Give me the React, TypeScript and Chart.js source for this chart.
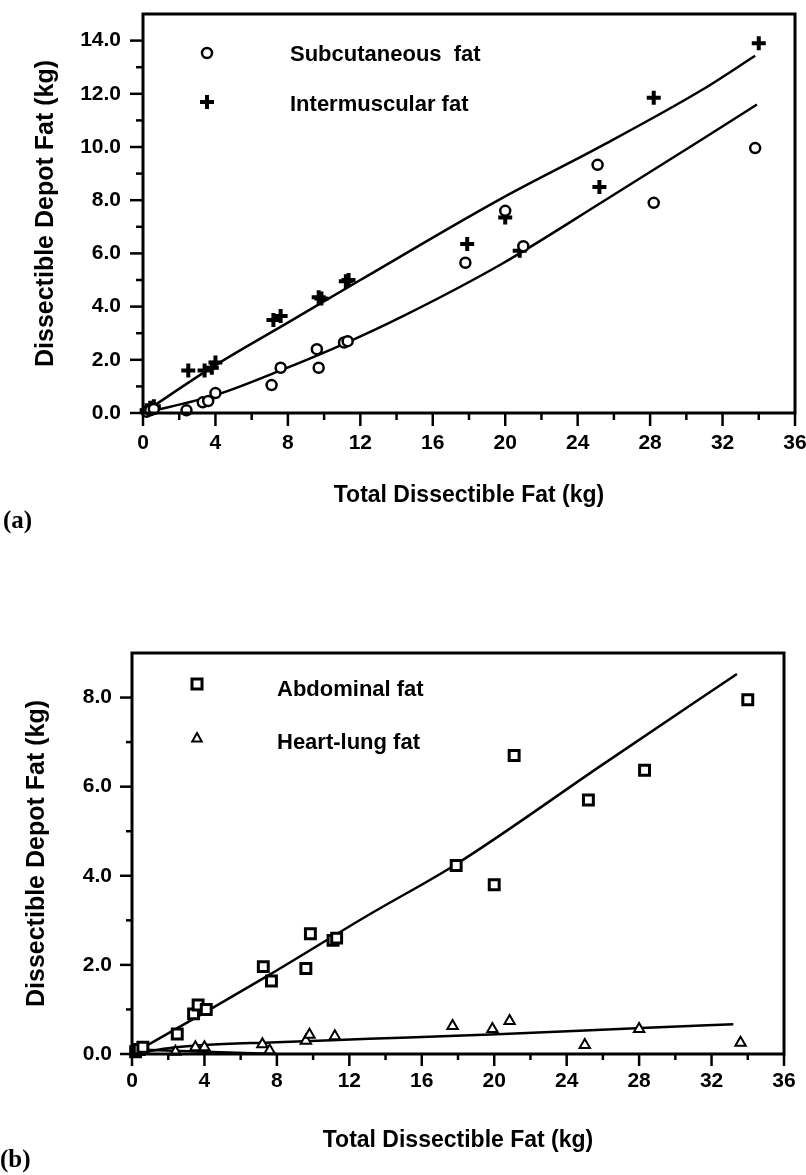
import React, { useEffect, useRef } from 'react';
import { Chart, registerables } from 'chart.js';

Chart.register(...registerables);

// ---------- Data: panel (a) ----------
const subX = [0.2, 0.4, 0.6, 2.4, 3.3, 3.6, 4.0, 7.1, 7.6, 9.6, 9.7, 11.1, 11.3, 17.8, 20.0, 21.0, 25.1, 28.2, 33.8];
const subY = [0.05, 0.1, 0.15, 0.1, 0.4, 0.45, 0.75, 1.05, 1.7, 2.4, 1.7, 2.65, 2.7, 5.65, 7.6, 6.27, 9.33, 7.9, 9.96];
const intX = [0.2, 0.4, 0.6, 2.5, 3.4, 3.8, 4.0, 7.2, 7.6, 9.7, 9.85, 11.2, 11.35, 17.9, 20.0, 20.8, 25.2, 28.2, 34.0];
const intY = [0.1, 0.2, 0.25, 1.6, 1.6, 1.7, 1.9, 3.5, 3.65, 4.35, 4.3, 4.95, 5.0, 6.35, 7.35, 6.1, 8.5, 11.85, 13.9];
const subFitX = [0, 4.0, 7.6, 11.1, 14.3, 19.8, 25.4, 30.9, 33.9];
const subFitY = [0, 0.67, 1.6, 2.6, 3.62, 5.6, 7.95, 10.3, 11.6];
const intFitX = [0, 4.0, 8.0, 12.0, 19.8, 25.4, 30.9, 33.8];
const intFitY = [0, 1.8, 3.4, 5.0, 8.07, 10.07, 12.16, 13.43];

// ---------- Data: panel (b) ----------
const abdX = [0.2, 0.4, 0.6, 2.5, 3.4, 3.65, 4.1, 7.25, 7.7, 9.6, 9.85, 11.1, 11.3, 17.9, 20.0, 21.1, 25.2, 28.3, 34.0];
const abdY = [0.05, 0.1, 0.15, 0.45, 0.9, 1.1, 1.0, 1.96, 1.64, 1.92, 2.7, 2.55, 2.6, 4.23, 3.8, 6.7, 5.7, 6.37, 7.95];
const hlX = [0.2, 0.4, 2.4, 3.5, 4.0, 7.2, 7.6, 9.6, 9.8, 11.2, 17.7, 19.9, 20.85, 25.0, 28.0, 33.6];
const hlY = [0.05, 0.08, 0.05, 0.15, 0.15, 0.22, 0.08, 0.3, 0.43, 0.4, 0.63, 0.56, 0.74, 0.2, 0.56, 0.25];
const abdFitX = [0, 4.1, 7.6, 13.1, 17.9, 26.0, 33.4];
const abdFitY = [0, 0.95, 1.78, 3.13, 4.26, 6.5, 8.53];
const hlFitX = [0, 2.0, 4.0, 7.6, 13.1, 20.5, 27.8, 33.2];
const hlFitY = [0, 0.13, 0.2, 0.26, 0.34, 0.45, 0.58, 0.67];
const lowFitX = [0.2, 4.0, 8.0];
const lowFitY = [0.1, 0.05, 0.0];

// ---------- Labels ----------
const xTitle = 'Total Dissectible Fat (kg)';
const yTitle = 'Dissectible Depot Fat (kg)';
const legendA = ['Subcutaneous  fat', 'Intermuscular fat'];
const legendB = ['Abdominal fat', 'Heart-lung fat'];

const FONT = "'Liberation Sans', Arial, Helvetica, sans-serif";

const pts = (xs: number[], ys: number[]) => xs.map((x, i) => ({ x, y: ys[i] }));

function drawMarker(ctx: CanvasRenderingContext2D, style: string, x: number, y: number) {
  ctx.save();
  ctx.strokeStyle = '#000';
  ctx.fillStyle = '#fff';
  ctx.beginPath();
  if (style === 'circle') {
    ctx.lineWidth = 2.5;
    ctx.arc(x, y, 5, 0, Math.PI * 2);
    ctx.fill();
    ctx.stroke();
  } else if (style === 'cross') {
    ctx.lineWidth = 4;
    ctx.moveTo(x - 7, y); ctx.lineTo(x + 7, y);
    ctx.moveTo(x, y - 7); ctx.lineTo(x, y + 7);
    ctx.stroke();
  } else if (style === 'rect') {
    ctx.lineWidth = 3;
    ctx.rect(x - 5, y - 5, 10, 10);
    ctx.fill();
    ctx.stroke();
  } else if (style === 'triangle') {
    ctx.lineWidth = 2;
    const r = 5;
    ctx.moveTo(x, y - r);
    ctx.lineTo(x + r * 0.866 * 1.1, y + r * 0.5 + 1);
    ctx.lineTo(x - r * 0.866 * 1.1, y + r * 0.5 + 1);
    ctx.closePath();
    ctx.fill();
    ctx.stroke();
  }
  ctx.restore();
}

const framePlugin = {
  id: 'frame',
  afterDatasetsDraw(chart: any, _args: any, opts: any) {
    const { ctx, chartArea, scales } = chart;
    const { left, right, top, bottom } = chartArea;
    const xs = scales.x;
    const ys = scales.y;
    ctx.save();
    ctx.strokeStyle = '#000';
    ctx.lineWidth = 3;
    ctx.strokeRect(left, top, right - left, bottom - top);
    ctx.lineWidth = 2.5;
    for (let v = 0; v <= opts.xMax + 1e-9; v += opts.xMinor) {
      const px = xs.getPixelForValue(v);
      const major = Math.abs(v / opts.xMajor - Math.round(v / opts.xMajor)) < 1e-6;
      const len = major ? opts.majorLen : opts.minorLen;
      ctx.beginPath();
      ctx.moveTo(px, bottom);
      ctx.lineTo(px, bottom + len);
      ctx.stroke();
    }
    for (let v = 0; v <= opts.yTop + 1e-9; v += opts.yMinor) {
      const py = ys.getPixelForValue(v);
      const major = Math.abs(v / opts.yMajor - Math.round(v / opts.yMajor)) < 1e-6;
      const len = major ? opts.majorLen : opts.minorLen;
      ctx.beginPath();
      ctx.moveTo(left, py);
      ctx.lineTo(left - len, py);
      ctx.stroke();
    }
    ctx.font = `bold 22px ${FONT}`;
    ctx.fillStyle = '#000';
    ctx.textBaseline = 'middle';
    ctx.textAlign = 'left';
    for (const item of opts.legend) {
      drawMarker(ctx, item.style, left + item.mx, top + item.my);
      ctx.fillText(item.text, left + item.tx, top + item.ty);
    }
    ctx.restore();
  },
};

const ptDataset = (data: any[], style: string) => {
  const common: any = {
    data,
    showLine: false,
    pointStyle: style,
    borderColor: '#000',
    backgroundColor: '#fff',
    pointBackgroundColor: '#fff',
    pointBorderColor: '#000',
    clip: false,
  };
  if (style === 'circle') { common.pointRadius = 5; common.pointBorderWidth = 2.5; }
  if (style === 'cross') { common.pointRadius = 7; common.pointBorderWidth = 4; }
  if (style === 'rect') { common.pointRadius = 7; common.pointBorderWidth = 3; }
  if (style === 'triangle') { common.pointRadius = 6; common.pointBorderWidth = 2; }
  return common;
};

const lineDataset = (data: any[]) => ({
  data,
  showLine: true,
  pointRadius: 0,
  borderColor: '#000',
  borderWidth: 2.5,
  cubicInterpolationMode: 'monotone',
  fill: false,
  clip: false,
});

function makeConfig(p: any) {
  return {
    type: 'scatter',
    data: { datasets: p.datasets },
    plugins: [framePlugin],
    options: {
      responsive: false,
      animation: false,
      events: [],
      layout: { padding: { left: 0, top: p.top, right: p.right, bottom: 0 } },
      plugins: {
        legend: { display: false },
        tooltip: { enabled: false },
        frame: p.frame,
      },
      scales: {
        x: {
          type: 'linear',
          position: 'bottom',
          min: 0,
          max: 36,
          grid: { display: false, drawTicks: false },
          border: { display: false },
          ticks: {
            stepSize: 4,
            includeBounds: false,
            maxRotation: 0,
            autoSkip: false,
            color: '#000',
            font: { family: FONT, size: 21, weight: 'bold' },
            padding: p.xTickPad,
            callback: (v: number) => String(v),
          },
          title: {
            display: true,
            text: xTitle,
            color: '#000',
            font: { family: FONT, size: 23, weight: 'bold' },
            padding: { top: 0, bottom: p.xTitlePad },
          },
          afterFit: (s: any) => {
            s.height = p.xAxisH;
            s.paddingLeft = 0;
            s.paddingRight = 0;
            s.paddingTop = 0;
            s.paddingBottom = 0;
          },
        },
        y: {
          type: 'linear',
          position: 'left',
          min: 0,
          max: p.yMax,
          grid: { display: false, drawTicks: false },
          border: { display: false },
          ticks: {
            stepSize: 2,
            includeBounds: false,
            color: '#000',
            font: { family: FONT, size: 21, weight: 'bold' },
            padding: p.yTickPad,
            callback: (v: number) => Number(v).toFixed(1),
          },
          title: {
            display: true,
            text: yTitle,
            color: '#000',
            font: { family: FONT, size: 25, weight: 'bold' },
            padding: { top: p.yTitlePad, bottom: 0 },
          },
          afterFit: (s: any) => {
            s.width = p.yAxisW;
            s.paddingLeft = 0;
            s.paddingRight = 0;
            s.paddingTop = 0;
            s.paddingBottom = 0;
          },
        },
      },
    },
  };
}

const configA = () => makeConfig({
  datasets: [
    ptDataset(pts(subX, subY), 'circle'),
    ptDataset(pts(intX, intY), 'cross'),
    lineDataset(pts(subFitX, subFitY)),
    lineDataset(pts(intFitX, intFitY)),
  ],
  top: 14,
  right: 11,
  yMax: 15,
  xAxisH: 132,
  yAxisW: 143,
  xTickPad: 18,
  yTickPad: 22,
  xTitlePad: 36,
  yTitlePad: 31,
  frame: {
    xMax: 36, xMinor: 2, xMajor: 4, yTop: 14, yMinor: 1, yMajor: 2, majorLen: 13, minorLen: 7,
    legend: [
      { style: 'circle', mx: 64, my: 39, tx: 147, ty: 41, text: legendA[0] },
      { style: 'cross', mx: 64, my: 88, tx: 147, ty: 91, text: legendA[1] },
    ],
  },
});

const configB = () => makeConfig({
  datasets: [
    ptDataset(pts(abdX, abdY), 'rect'),
    ptDataset(pts(hlX, hlY), 'triangle'),
    lineDataset(pts(abdFitX, abdFitY)),
    lineDataset(pts(hlFitX, hlFitY)),
    lineDataset(pts(lowFitX, lowFitY)),
  ],
  top: 93,
  right: 22,
  yMax: 9,
  xAxisH: 121,
  yAxisW: 132,
  xTickPad: 15,
  yTickPad: 20,
  xTitlePad: 21,
  yTitlePad: 22,
  frame: {
    xMax: 36, xMinor: 2, xMajor: 4, yTop: 8, yMinor: 1, yMajor: 2, majorLen: 12, minorLen: 6,
    legend: [
      { style: 'rect', mx: 65, my: 31, tx: 145, ty: 37, text: legendB[0] },
      { style: 'triangle', mx: 65, my: 85, tx: 145, ty: 90, text: legendB[1] },
    ],
  },
});

function ChartCanvas({ make, width, height, top }: any) {
  const ref = useRef<HTMLCanvasElement | null>(null);
  useEffect(() => {
    if (!ref.current) return;
    const chart = new Chart(ref.current, make() as any);
    return () => chart.destroy();
  }, []);
  return (
    <canvas
      ref={ref}
      width={width}
      height={height}
      style={{ position: 'absolute', left: 0, top, width, height, display: 'block' }}
    />
  );
}

const panelLabel: React.CSSProperties = {
  position: 'absolute',
  fontFamily: "'Liberation Serif', 'Times New Roman', serif",
  fontWeight: 'bold',
  fontSize: 25,
  lineHeight: '28px',
  color: '#000',
};

export default function App() {
  return (
    <div style={{ position: 'absolute', left: 0, top: 0, width: 806, height: 1175, background: '#fff', overflow: 'hidden' }}>
      <ChartCanvas make={configA} width={806} height={545} top={0} />
      <ChartCanvas make={configB} width={806} height={615} top={560} />
      <div style={{ ...panelLabel, left: 3, top: 506 }}>(a)</div>
      <div style={{ ...panelLabel, left: 0, top: 1145 }}>(b)</div>
    </div>
  );
}
